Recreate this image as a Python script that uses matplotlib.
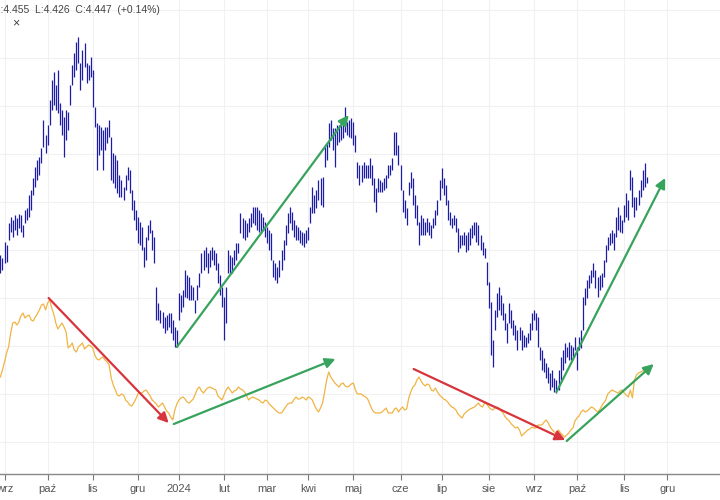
import numpy as np
import pandas as pd
import matplotlib
matplotlib.use("Agg")
import matplotlib.pyplot as plt

# ---------------- data (arbitrary price units) ----------------
START_DATE = "2023-08-30"
END_DATE = "2024-12-31"
HOLIDAYS = ["2023-12-25", "2024-01-01", "2024-03-29"]

MONTH_LABELS = {1: "2024", 2: "lut", 3: "mar", 4: "kwi", 5: "maj", 6: "cze",
                7: "lip", 8: "sie", 9: "wrz", 10: "paź", 11: "lis", 12: "gru"}

blue_high = [
    219, 216, 232, 229, 251, 257, 254, 259, 256, 260,
    259, 249, 264, 266, 279, 284, 296, 307, 314, 317,
    326, 354, 339, 349, 374, 394, 402, 389, 404, 371,
    364, 357, 364, 362, 389, 409, 421, 432, 437, 411,
    424, 431, 411, 409, 417, 404, 367, 351, 349, 347,
    344, 347, 347, 354, 337, 321, 319, 314, 299, 294,
    287, 299, 307, 304, 284, 274, 264, 257, 252, 247,
    227, 237, 249, 254, 244, 237, 187, 171, 164, 162,
    157, 159, 161, 161, 154, 147, 144, 181, 179, 184,
    204, 199, 197, 189, 187, 174, 189, 201, 221, 224,
    227, 221, 224, 227, 224, 221, 211, 199, 187, 177,
    187, 224, 219, 217, 224, 231, 231, 261, 256, 254,
    251, 256, 261, 267, 267, 267, 264, 261, 257, 252,
    247, 244, 241, 214, 211, 207, 214, 224, 234, 249,
    261, 267, 262, 254, 249, 247, 244, 242, 241, 244,
    247, 267, 287, 279, 284, 294, 296, 297, 327, 331,
    351, 354, 346, 346, 349, 349, 351, 352, 367, 352,
    354, 356, 352, 339, 312, 309, 309, 312, 309, 309,
    316, 309, 296, 286, 296, 294, 292, 296, 299, 309,
    309, 316, 342, 342, 329, 309, 284, 274, 266, 292,
    302, 296, 279, 269, 252, 259, 256, 252, 256, 252,
    249, 256, 264, 274, 294, 306, 296, 289, 274, 262,
    256, 259, 256, 246, 239, 239, 242, 239, 242, 246,
    249, 252, 252, 249, 239, 232, 226, 212, 192, 172,
    134, 164, 181, 187, 179, 171, 161, 151, 171, 164,
    154, 149, 144, 147, 144, 139, 137, 141, 151, 161,
    164, 161, 157, 127, 124, 116, 111, 107, 101, 104,
    96, 94, 104, 117, 124, 131, 127, 132, 129, 127,
    137, 127, 137, 144, 177, 186, 194, 199, 204, 211,
    204, 197, 199, 201, 214, 229, 237, 241, 244, 241,
    257, 267, 259, 254, 269, 281, 274, 304, 297, 277,
    277, 284, 294, 304, 311, 297,
]

blue_low = [
    201, 204, 211, 212, 234, 242, 237, 244, 239, 246,
    242, 237, 251, 254, 257, 264, 279, 287, 294, 299,
    311, 327, 321, 329, 349, 364, 369, 364, 361, 349,
    339, 317, 334, 344, 369, 389, 397, 404, 411, 384,
    394, 407, 391, 394, 397, 367, 347, 304, 319, 324,
    304, 324, 331, 337, 294, 291, 286, 281, 277, 277,
    274, 284, 294, 281, 264, 254, 244, 231, 229, 224,
    207, 214, 234, 241, 224, 211, 154, 154, 151, 146,
    141, 144, 147, 141, 134, 127, 127, 154, 162, 167,
    177, 176, 174, 174, 174, 161, 174, 187, 201, 204,
    207, 201, 207, 214, 209, 204, 191, 179, 167, 134,
    151, 201, 201, 201, 209, 214, 221, 241, 236, 234,
    237, 242, 247, 251, 249, 244, 242, 241, 244, 237,
    231, 224, 214, 197, 194, 191, 197, 204, 214, 229,
    241, 251, 244, 237, 234, 234, 231, 229, 227, 231,
    234, 251, 261, 261, 266, 274, 269, 267, 307, 314,
    327, 334, 324, 307, 329, 332, 334, 336, 342, 339,
    337, 336, 329, 322, 296, 289, 292, 296, 296, 296,
    296, 289, 272, 262, 282, 282, 282, 284, 286, 296,
    299, 304, 319, 319, 309, 284, 262, 256, 249, 279,
    286, 269, 256, 249, 229, 239, 239, 239, 242, 239,
    236, 246, 249, 259, 274, 286, 279, 269, 254, 249,
    246, 249, 242, 222, 226, 229, 229, 222, 224, 229,
    236, 239, 232, 229, 224, 219, 216, 189, 166, 119,
    107, 144, 157, 164, 159, 154, 144, 131, 151, 146,
    139, 134, 124, 134, 124, 127, 127, 131, 134, 144,
    154, 144, 127, 114, 104, 102, 96, 91, 84, 87,
    82, 81, 84, 94, 104, 111, 117, 114, 114, 117,
    124, 104, 124, 126, 144, 169, 176, 186, 191, 197,
    186, 177, 184, 187, 197, 212, 224, 229, 231, 224,
    237, 244, 242, 241, 252, 257, 254, 284, 267, 257,
    264, 269, 277, 284, 287, 291,
]

orange = [
    97, 104, 112, 121, 127, 141, 151, 152, 149, 152,
    158, 161, 156, 158, 159, 154, 153, 157, 160, 164,
    169, 170, 164, 171, 174, 166, 160, 151, 145, 148,
    151, 147, 142, 126, 128, 131, 124, 122, 127, 129,
    131, 125, 127, 129, 128, 126, 119, 115, 114, 116,
    117, 114, 112, 109, 96, 89, 84, 79, 78, 80,
    79, 74, 72, 69, 68, 71, 75, 80, 81, 81,
    83, 84, 81, 78, 74, 72, 70, 67, 69, 71,
    67, 63, 61, 57, 54, 64, 70, 74, 76, 77,
    75, 72, 71, 73, 75, 80, 85, 87, 83, 81,
    84, 86, 87, 86, 85, 84, 78, 76, 74, 79,
    84, 87, 84, 81, 83, 84, 87, 85, 84, 82,
    78, 74, 76, 77, 76, 75, 74, 72, 71, 74,
    73, 70, 68, 66, 64, 62, 61, 61, 64, 67,
    70, 71, 71, 74, 77, 75, 75, 77, 76, 74,
    77, 76, 74, 69, 65, 62, 66, 71, 82, 94,
    102, 97, 94, 91, 89, 87, 90, 91, 88, 87,
    88, 90, 91, 84, 80, 80, 80, 78, 77, 75,
    70, 65, 62, 61, 61, 61, 62, 64, 66, 61,
    61, 61, 65, 66, 62, 65, 67, 64, 65, 76,
    82, 87, 89, 94, 97, 93, 90, 88, 90, 89,
    84, 83, 86, 82, 79, 77, 75, 74, 72, 69,
    67, 66, 64, 60, 58, 56, 60, 62, 64, 65,
    66, 67, 69, 71, 68, 67, 71, 70, 67, 65,
    64, 66, 67, 66, 63, 61, 57, 55, 53, 50,
    48, 46, 47, 44, 38, 40, 42, 44, 45, 47,
    46, 46, 49, 49, 49, 52, 54, 51, 47, 44,
    42, 41, 44, 41, 39, 37, 39, 41, 44, 46,
    53, 56, 58, 62, 64, 62, 63, 65, 67, 66,
    64, 62, 64, 68, 71, 74, 80, 82, 84, 83,
    82, 81, 83, 84, 81, 79, 77, 84, 76, 94,
    99, 101, 102, 103, 104,
]

# trend arrows drawn on the chart: (start bar, start value, end bar, end value, kind)
arrows = [
    (23.5, 176, 82.0, 51, "down"),
    (84.5, 50, 163.3, 115, "up"),
    (86.0, 127, 169.7, 359, "up"),
    (201.4, 105, 275.3, 34, "down"),
    (276.0, 33, 318.4, 110, "up"),
    (271.0, 82, 324.0, 296, "up"),
]

header_text = "H:4.455  L:4.426  C:4.447  (+0.14%)"

# ---------------- drawing ----------------
BLUE = "#1c1ca6"
ORANGE = "#f0b444"
RED = "#d8343c"
GREEN = "#37a35c"

dates = pd.bdate_range(START_DATE, END_DATE, freq="C", holidays=HOLIDAYS)
months = dates.to_period("M")
tick_pos, tick_lab = [], []
for i in range(1, len(dates)):
    if months[i] != months[i - 1]:
        tick_pos.append(i)
        tick_lab.append(MONTH_LABELS[dates[i].month])

fig = plt.figure(figsize=(7.2, 5.0), dpi=100)
ax = fig.add_axes([0.0, 0.052, 1.0, 0.948])

xb = np.arange(len(blue_high))
ax.vlines(xb, blue_low, blue_high, color=BLUE, lw=0.9, zorder=3)

xo = np.arange(len(orange))
ax.plot(xo, orange, color=ORANGE, lw=0.9, zorder=2)

for x0, y0, x1, y1, kind in arrows:
    c = RED if kind == "down" else GREEN
    ax.annotate("", xy=(x1, y1), xytext=(x0, y0),
                arrowprops=dict(arrowstyle="-|>", color=c, lw=1.6,
                                mutation_scale=15, shrinkA=0, shrinkB=0),
                zorder=5)

ax.set_xlim(-0.2, 350.7)
ax.set_ylim(0, 474)
ax.set_xticks(tick_pos)
ax.set_xticklabels(tick_lab, fontsize=8, color="#555555", family="Liberation Sans")
ax.set_yticks(np.arange(32, 474, 48))
ax.tick_params(axis="y", left=False, labelleft=False)
ax.tick_params(axis="x", length=4, color="#777777", pad=3)
ax.grid(True, color="#f1f1f1", lw=0.8, zorder=0)
for s in ["top", "left", "right"]:
    ax.spines[s].set_visible(False)
ax.spines["bottom"].set_color("#888888")
ax.spines["bottom"].set_linewidth(1.0)

fig.text(-7 / 720, 1 - 10 / 500, header_text, fontsize=7.5, color="#444444",
         family="Liberation Sans", va="center", ha="left")
fig.text(12 / 720, 1 - 23 / 500, "×", fontsize=9, color="#444444",
         family="Liberation Sans", va="center", ha="left")

fig.savefig("out.png", dpi=100)
